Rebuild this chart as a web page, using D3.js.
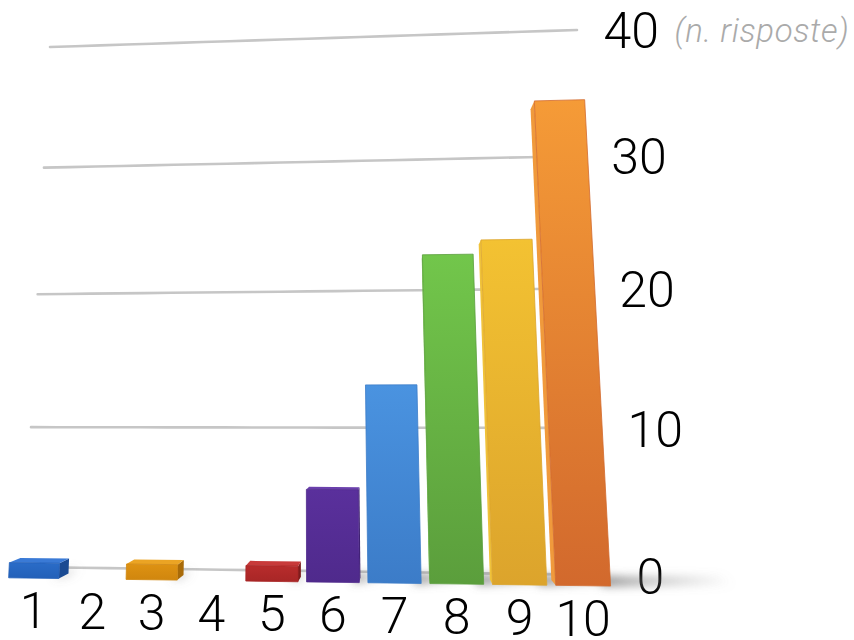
<!DOCTYPE html>
<html>
<head>
<meta charset="utf-8">
<script src="https://cdn.jsdelivr.net/npm/d3@7"></script>
<style>
  html, body { margin: 0; padding: 0; background: #ffffff; }
  svg { display: block; }
  text { font-family: Roboto, "Liberation Sans", sans-serif; }
</style>
</head>
<body>
<svg id="chart" width="854" height="640"></svg>
<script>
// ---------- data ----------
const categories = ["1", "2", "3", "4", "5", "6", "7", "8", "9", "10"];
const values     = [1, 0, 1, 0, 1, 6, 13, 22, 23, 33];
const yTicks     = [0, 10, 20, 30, 40];
const yAxisTitle = "(n. risposte)";
const frontTop    = ["#2a6cc8", "#2a6cc8", "#de9212", "#de9212", "#b82c2c", "#5a309c", "#4a93e0", "#72c64b", "#f3c232", "#f59b37"];
const frontBottom = ["#2360b8", "#2360b8", "#d0860e", "#d0860e", "#a82626", "#4f2a8c", "#3c7cc8", "#5b9e3c", "#dca42c", "#d2692d"];
const sideColor   = ["#1a4a92", "#1a4a92", "#a86a08", "#a86a08", "#7e1c1c", "#3b1f6c", "#2d5f9e", "#457a2d", "#b58420", "#a8521f"];
const litSide     = ["#3a7ad6", "#3a7ad6", "#eba424", "#eba424", "#c03434", "#62389f", "#4f95e2", "#76c44e", "#f0c23a", "#f09a3c"];
const topColor    = ["#3a7ad6", "#3a7ad6", "#eba424", "#eba424", "#c83a3a", "#6a40ac", "#5aa0ea", "#84d45c", "#fad048", "#fbae4c"];

// ---------- scales (flat chart plane) ----------
const x = d3.scaleBand().domain(categories).range([0, 1]).paddingInner(0.14).paddingOuter(0.15);
const y = d3.scaleLinear().domain([0, 40]).range([0, 1]);

// ---------- perspective projection ----------
// back wall (gridlines): homography from flat coords to screen
const planeSrc = [[0, 0], [1, 0], [1, 1], [0, 1]];
const planeDst = [[24, 567], [607, 575], [577, 30], [50, 47]];
// depth vanishing point on the horizon; bars' front face comes forward by FK, back face by BK
const VP = [400, 400], FK = 0.064, BK = 0.034;

function solveHomography(src, dst) {
  const A = [], B = [];
  for (let i = 0; i < 4; i++) {
    const [sx, sy] = src[i], [X, Y] = dst[i];
    A.push([sx, sy, 1, 0, 0, 0, -sx * X, -sy * X]); B.push(X);
    A.push([0, 0, 0, sx, sy, 1, -sx * Y, -sy * Y]); B.push(Y);
  }
  const n = 8;
  for (let c = 0; c < n; c++) {
    let p = c;
    for (let r = c + 1; r < n; r++) if (Math.abs(A[r][c]) > Math.abs(A[p][c])) p = r;
    [A[c], A[p]] = [A[p], A[c]]; [B[c], B[p]] = [B[p], B[c]];
    for (let r = 0; r < n; r++) {
      if (r === c) continue;
      const f = A[r][c] / A[c][c];
      for (let k = c; k < n; k++) A[r][k] -= f * A[c][k];
      B[r] -= f * B[c];
    }
  }
  return B.map((b, i) => b / A[i][i]);
}
const Hm = solveHomography(planeSrc, planeDst);
function wall(gx, gy) {
  const [a, b, c, d, e, f, g, h] = Hm;
  const W = g * gx + h * gy + 1;
  return [(a * gx + b * gy + c) / W, (d * gx + e * gy + f) / W];
}
// depth k: 0 = wall, FK = bar front, BK = bar back
function at(gx, gy, k) {
  const [px, py] = wall(gx, gy);
  return [px + k * (px - VP[0]), py + k * (py - VP[1])];
}
const front = (gx, gy) => at(gx, gy, FK);
const back = (gx, gy) => at(gx, gy, BK);

// ---------- drawing ----------
const svg = d3.select("#chart");
const defs = svg.append("defs");

defs.append("filter").attr("id", "blur").attr("x", "-50%").attr("y", "-50%").attr("width", "200%").attr("height", "200%")
  .append("feGaussianBlur").attr("stdDeviation", 5);

const shadowGrad = defs.append("linearGradient").attr("id", "shadowGrad")
  .attr("x1", 0).attr("y1", 0).attr("x2", 1).attr("y2", 0);
shadowGrad.append("stop").attr("offset", "0%").attr("stop-color", "#666").attr("stop-opacity", 0.85);
shadowGrad.append("stop").attr("offset", "100%").attr("stop-color", "#999").attr("stop-opacity", 0);

categories.forEach((c, i) => {
  const g = defs.append("linearGradient").attr("id", "fg" + i)
    .attr("x1", 0).attr("y1", 0).attr("x2", 0).attr("y2", 1);
  g.append("stop").attr("offset", "0%").attr("stop-color", frontTop[i]);
  g.append("stop").attr("offset", "100%").attr("stop-color", frontBottom[i]);
});

const line = d3.line();

// gridlines on the back wall
const grid = svg.append("g").attr("class", "grid");
yTicks.forEach(t => {
  const pts = d3.range(0, 1.0001, 0.05).map(u => wall(u, y(t)));
  grid.append("path").attr("d", line(pts))
    .attr("fill", "none").attr("stroke", "#c6c6c6").attr("stroke-width", 2.6).attr("stroke-linecap", "round");
});

// y axis labels
const yLab = svg.append("g").attr("class", "y-labels");
yTicks.forEach(t => {
  const [px, py] = wall(1.048, y(t));
  yLab.append("text").attr("x", px).attr("y", py + 2)
    .attr("dominant-baseline", "central")
    .attr("font-size", 50).attr("font-weight", 300).attr("fill", "#000")
    .text(t);
});
{
  const [px, py] = wall(1.048, y(40));
  yLab.append("text").attr("x", px + 71).attr("y", py + 1)
    .attr("dominant-baseline", "central")
    .attr("font-size", 33).attr("font-weight", 300).attr("font-style", "italic")
    .attr("letter-spacing", 0.6).attr("fill", "#aaaaaa")
    .text(yAxisTitle);
}

// floor shadows
const shadows = svg.append("g").attr("class", "shadows").attr("filter", "url(#blur)");
categories.forEach((c, i) => {
  const v = values[i];
  if (!v) return;
  const x1 = x(c) + x.bandwidth();
  const L = v * 0.006;
  const poly = [at(x1 - 0.01, 0, FK), at(x1 + L, 0, FK * 0.7),
                at(x1 + L, 0, 0), at(x1 - 0.01, 0, BK * 0.4)];
  shadows.append("path").attr("d", line(poly) + "Z").attr("fill", "url(#shadowGrad)");
});

// bars, painter's order (farthest from vanishing point first)
const barsG = svg.append("g").attr("class", "bars");
const centerX = c => front(x(c) + x.bandwidth() / 2, 0)[0];
const order = categories.map((c, i) => i)
  .sort((a, b) => Math.abs(centerX(categories[b]) - VP[0]) - Math.abs(centerX(categories[a]) - VP[0]));
order.forEach(i => {
  const v = values[i];
  if (!v) return;
  const c = categories[i];
  const x0 = x(c), x1 = x0 + x.bandwidth(), v1 = y(v);
  const g = barsG.append("g");
  // side faces (right side in shade, left side lit)
  if (back(x1, v1 / 2)[0] > front(x1, v1 / 2)[0]) {
    g.append("path").attr("d", line([front(x1, 0), back(x1, 0), back(x1, v1), front(x1, v1)]) + "Z")
      .attr("fill", sideColor[i]);
  }
  if (back(x0, v1 / 2)[0] < front(x0, v1 / 2)[0]) {
    g.append("path").attr("d", line([front(x0, 0), back(x0, 0), back(x0, v1), front(x0, v1)]) + "Z")
      .attr("fill", litSide[i]);
  }
  // top face
  const xm = (x0 + x1) / 2;
  if (back(xm, v1)[1] < front(xm, v1)[1]) {
    g.append("path").attr("d", line([front(x0, v1), front(x1, v1), back(x1, v1), back(x0, v1)]) + "Z")
      .attr("fill", topColor[i]);
  }
  // front face
  g.append("path").attr("d", line([front(x0, 0), front(x1, 0), front(x1, v1), front(x0, v1)]) + "Z")
    .attr("fill", "url(#fg" + i + ")")
    .attr("stroke", frontBottom[i]).attr("stroke-width", 0.8).attr("stroke-linejoin", "round");
});

// x axis labels
const xLab = svg.append("g").attr("class", "x-labels");
categories.forEach(c => {
  const [px, py] = front(x(c) + x.bandwidth() / 2, 0);
  xLab.append("text").attr("x", px).attr("y", py + 50)
    .attr("text-anchor", "middle")
    .attr("font-size", 50).attr("font-weight", 300).attr("fill", "#000")
    .text(c);
});
</script>
</body>
</html>
